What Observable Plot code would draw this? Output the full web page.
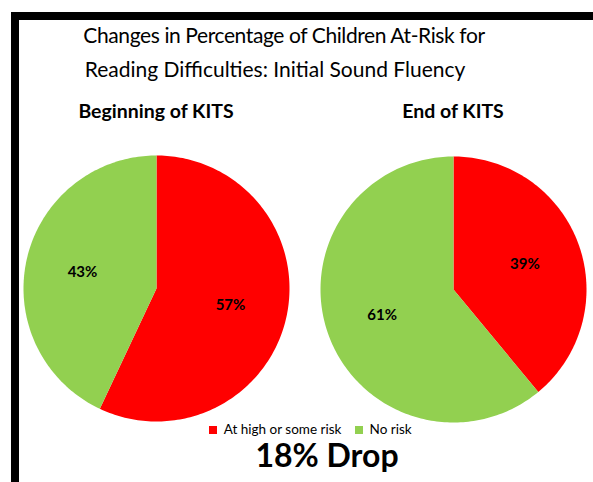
<!DOCTYPE html>
<html><head><meta charset="utf-8">
<script src="https://cdn.jsdelivr.net/npm/d3@7"></script>
<script src="https://cdn.jsdelivr.net/npm/@observablehq/plot@0.6"></script>
<style>
html,body{margin:0;padding:0;background:#fff;}
#page{position:relative;width:593px;height:482px;overflow:hidden;background:#fff;font-family:Lato,"Open Sans",sans-serif;color:#000;}
#frame{position:absolute;left:11px;top:12px;width:700px;height:600px;border-top:8px solid #000;border-left:8px solid #000;box-sizing:border-box;}
.t{position:absolute;white-space:nowrap;line-height:1.2;transform:translateX(-50%);}
.title{font-size:21px;font-weight:400;}
.sub{font-size:19.5px;font-weight:700;}
.foot{font-size:32px;font-weight:700;line-height:0.8;}
.pie{position:absolute;}
#legend{position:absolute;left:209px;top:423px;}
</style>
</head><body>
<div id="page">
  <div id="frame"></div>
  <div class="t title" id="t1" style="left:284px;top:22px;letter-spacing:-0.4px;"></div>
  <div class="t title" id="t2" style="left:275px;top:56px;"></div>
  <div class="t sub" id="s1" style="left:156px;top:99px;"></div>
  <div class="t sub" id="s2" style="left:453px;top:99px;"></div>
  <div class="pie" id="p1" style="left:21px;top:153px;"></div>
  <div class="pie" id="p2" style="left:318px;top:154px;"></div>
  <div id="legend"></div>
  <div class="t foot" id="foot" style="left:327px;top:442px;"></div>
</div>
<script>
// ---- data ----
const titleLines = ["Changes in Percentage of Children At-Risk for", "Reading Difficulties: Initial Sound Fluency"];
const periods = ["Beginning of KITS", "End of KITS"];
const categories = ["At high or some risk", "No risk"];
const colors = ["#FF0000", "#92D050"];
const atRisk = [57, 39];
const noRisk = [43, 61];
const footer = "18% Drop";

document.getElementById("t1").textContent = titleLines[0];
document.getElementById("t2").textContent = titleLines[1];
document.getElementById("s1").textContent = periods[0];
document.getElementById("s2").textContent = periods[1];
document.getElementById("foot").textContent = footer;

const pt = a => [Math.sin(a), -Math.cos(a)];
const outline = {type: "Polygon", coordinates: [d3.range(0, 361, 2).map(d => pt(d * Math.PI / 180))]};

function pieChart(values) {
  const data = categories.map((c, i) => ({risk: c, value: values[i]}));
  const arcs = d3.pie().sort(null).value(d => d.value)(data);
  const slices = arcs.map(a => {
    const n = Math.max(2, Math.ceil((a.endAngle - a.startAngle) / 0.02));
    const ring = [[0, 0]];
    for (let k = 0; k <= n; ++k) ring.push(pt(a.startAngle + (a.endAngle - a.startAngle) * k / n));
    ring.push([0, 0]);
    return {type: "Feature", properties: {risk: a.data.risk}, geometry: {type: "Polygon", coordinates: [ring]}};
  });
  const labels = arcs.map(a => {
    const m = (a.startAngle + a.endAngle) / 2;
    const [x, y] = pt(m);
    return {x: x * 0.57, y: y * 0.57, text: a.data.value + "%"};
  });
  return Plot.plot({
    width: 270, height: 270, margin: 0,
    projection: {type: "identity", domain: outline, inset: 2},
    color: {domain: categories, range: colors},
    marks: [
      Plot.geo(slices, {fill: d => d.properties.risk, stroke: "none"}),
      Plot.text(labels, {x: "x", y: "y", text: "text", fontSize: 15, fontWeight: "bold", fontFamily: "Lato, sans-serif", fill: "#000"})
    ]
  });
}

document.getElementById("p1").appendChild(pieChart([atRisk[0], noRisk[0]]));
document.getElementById("p2").appendChild(pieChart([atRisk[1], noRisk[1]]));

const leg = Plot.legend({
  color: {domain: categories, range: colors},
  legend: "swatches",
  swatchSize: 8,
  style: {fontFamily: "Lato, sans-serif", fontSize: "13.5px", minHeight: "0px", margin: "0", color: "#000", lineHeight: "1"}
});
document.getElementById("legend").appendChild(leg);
</script>
</body></html>
